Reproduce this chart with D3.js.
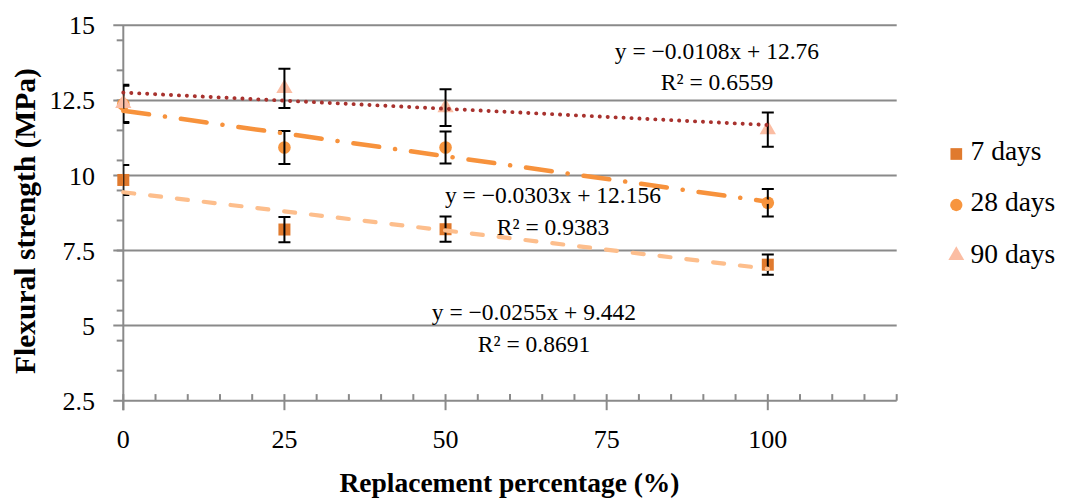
<!DOCTYPE html>
<html>
<head>
<meta charset="utf-8">
<script src="https://cdn.jsdelivr.net/npm/d3@7"></script>
<style>
  html, body { margin: 0; padding: 0; background: #fff; }
  svg { display: block; }
  text { font-family: "Liberation Serif", "Times New Roman", serif; fill: #000; }
</style>
</head>
<body>
<svg id="chart" width="1065" height="501"></svg>
<script>
// ---- data ----
const categories = [0, 25, 50, 100];
const seriesNames = ["7 days", "28 days", "90 days"];
const values7 = [9.85, 8.2, 8.21, 7.03];
const errors7 = [0.5, 0.42, 0.42, 0.34];
const values28 = [12.37, 10.93, 10.93, 9.09];
const errors28 = [0.62, 0.55, 0.53, 0.46];
const values90 = [12.4, 12.9, 12.26, 11.53];
const errors90 = [0.62, 0.65, 0.61, 0.57];
const trendSlopes = [-0.0255, -0.0303, -0.0108];
const trendIntercepts = [9.442, 12.156, 12.76];
const trendEquations = ["y = \u22120.0255x + 9.442", "y = \u22120.0303x + 12.156", "y = \u22120.0108x + 12.76"];
const trendR2 = ["R\u00B2 = 0.8691", "R\u00B2 = 0.9383", "R\u00B2 = 0.6559"];
const yTicks = [2.5, 5, 7.5, 10, 12.5, 15];
const xTicks = [0, 25, 50, 75, 100];

(function () {
// ---- layout ----
const svg = d3.select("#chart");
const pLeft = 123.3, pRight = 896.7, pTop = 25.3, pBottom = 400.7;
const x = d3.scaleLinear().domain([0, 120]).range([pLeft, pRight]);
const y = d3.scaleLinear().domain([2.5, 15]).range([pBottom, pTop]);
const gridColor = "#8a8a8a";

const markerColors = ["#E07A2E", "#F7953E", "#FBBDA3"];
const trendColors = ["#FDBE8C", "#F7923C", "#A8322E"];
const symbols = [d3.symbolSquare, d3.symbolCircle, d3.symbolTriangle];
const symbolSizes = [144, 125, 115];

svg.append("defs").append("clipPath").attr("id", "plotclip")
  .append("rect").attr("x", pLeft).attr("y", pTop - 20).attr("width", pRight - pLeft + 10).attr("height", pBottom - pTop + 20);

// gridlines (horizontal), extending left as major ticks
svg.append("g").selectAll("line").data(yTicks).join("line")
  .attr("x1", pLeft - 10).attr("x2", pRight)
  .attr("y1", d => y(d)).attr("y2", d => y(d))
  .attr("stroke", gridColor).attr("stroke-width", 2);

// y minor ticks
const yMinor = d3.range(3.5, 15, 1);
svg.append("g").selectAll("line").data(yMinor).join("line")
  .attr("x1", pLeft - 6.6).attr("x2", pLeft)
  .attr("y1", d => y(d)).attr("y2", d => y(d))
  .attr("stroke", gridColor).attr("stroke-width", 2);

// y axis line
svg.append("line").attr("x1", pLeft).attr("x2", pLeft).attr("y1", pTop).attr("y2", pBottom + 9.5)
  .attr("stroke", gridColor).attr("stroke-width", 2);

// x minor ticks (inside)
const xMinor = d3.range(5, 121, 5).filter(d => d % 25 !== 0);
svg.append("g").selectAll("line").data(xMinor).join("line")
  .attr("x1", d => x(d)).attr("x2", d => x(d))
  .attr("y1", pBottom - 6.6).attr("y2", pBottom)
  .attr("stroke", gridColor).attr("stroke-width", 2);
// x major ticks (cross)
svg.append("g").selectAll("line").data(xTicks).join("line")
  .attr("x1", d => x(d)).attr("x2", d => x(d))
  .attr("y1", pBottom - 6.6).attr("y2", pBottom + 9.5)
  .attr("stroke", gridColor).attr("stroke-width", 2);

// y tick labels
svg.append("g").selectAll("text").data(yTicks).join("text")
  .attr("x", 95).attr("y", d => y(d)).attr("dy", "0.35em")
  .attr("text-anchor", "end").style("font-size", "26px")
  .text(d => d);
// x tick labels
svg.append("g").selectAll("text").data(xTicks).join("text")
  .attr("x", d => x(d)).attr("y", 448)
  .attr("text-anchor", "middle").style("font-size", "26px")
  .text(d => d);

// axis titles
svg.append("text").attr("x", 509.5).attr("y", 491.5).attr("text-anchor", "middle")
  .style("font-size", "27.5px").style("font-weight", "bold")
  .text("Replacement percentage (%)");
svg.append("text").attr("transform", "translate(35,221) rotate(-90)").attr("text-anchor", "middle")
  .style("font-size", "29.5px").style("font-weight", "bold")
  .text("Flexural strength (MPa)");

// series
const allValues = [values7, values28, values90];
const allErrors = [errors7, errors28, errors90];

allValues.forEach((vals, s) => {
  const g = svg.append("g");
  g.selectAll("path.m").data(categories).join("path").attr("class", "m")
    .attr("d", d3.symbol().type(symbols[s]).size(symbolSizes[s]))
    .attr("transform", (c, i) => `translate(${x(c)},${y(vals[i])})`)
    .attr("fill", markerColors[s]);
  const eg = g.append("g").attr("clip-path", "url(#plotclip)")
    .attr("stroke", "#000").attr("stroke-width", 2).attr("fill", "none");
  categories.forEach((c, i) => {
    const cx = x(c), y1 = y(vals[i] + allErrors[s][i]), y2 = y(vals[i] - allErrors[s][i]);
    eg.append("line").attr("x1", cx).attr("x2", cx).attr("y1", y1).attr("y2", y2);
    eg.append("line").attr("x1", cx - 6).attr("x2", cx + 6).attr("y1", y1).attr("y2", y1);
    eg.append("line").attr("x1", cx - 6).attr("x2", cx + 6).attr("y1", y2).attr("y2", y2);
  });
});

// trendlines
const dashes = ["11 16", "26 16 0.1 16", "0.1 7.85"];
const widths = [4.2, 4.5, 3.9];
const line = d3.line().x(d => x(d[0])).y(d => y(d[1]));
trendSlopes.forEach((m, s) => {
  const b = trendIntercepts[s];
  svg.append("path")
    .attr("d", line([[0, b], [100, b + m * 100]]))
    .attr("fill", "none").attr("stroke", trendColors[s])
    .attr("stroke-width", widths[s]).attr("stroke-linecap", "round")
    .attr("stroke-dasharray", dashes[s]);
});

// equation labels
const eqPos = [[534, 319.5, 351.5], [553, 203, 235], [717, 58.5, 90]];
trendEquations.forEach((t, s) => {
  svg.append("text").attr("x", eqPos[s][0]).attr("y", eqPos[s][1]).attr("text-anchor", "middle")
    .style("font-size", "23.5px").text(t);
  svg.append("text").attr("x", eqPos[s][0]).attr("y", eqPos[s][2]).attr("text-anchor", "middle")
    .style("font-size", "23.5px").text(trendR2[s]);
});

// legend
const legendMarkerY = [154, 205, 255.5];
const legendTextY = [160, 210.5, 263];
seriesNames.forEach((n, s) => {
  svg.append("path")
    .attr("d", d3.symbol().type(symbols[s]).size(symbolSizes[s] * 0.95))
    .attr("transform", `translate(956.3,${legendMarkerY[s]})`)
    .attr("fill", markerColors[s]);
  svg.append("text").attr("x", 970.5).attr("y", legendTextY[s])
    .style("font-size", "27.5px").text(n);
});
})();
</script>
</body>
</html>
